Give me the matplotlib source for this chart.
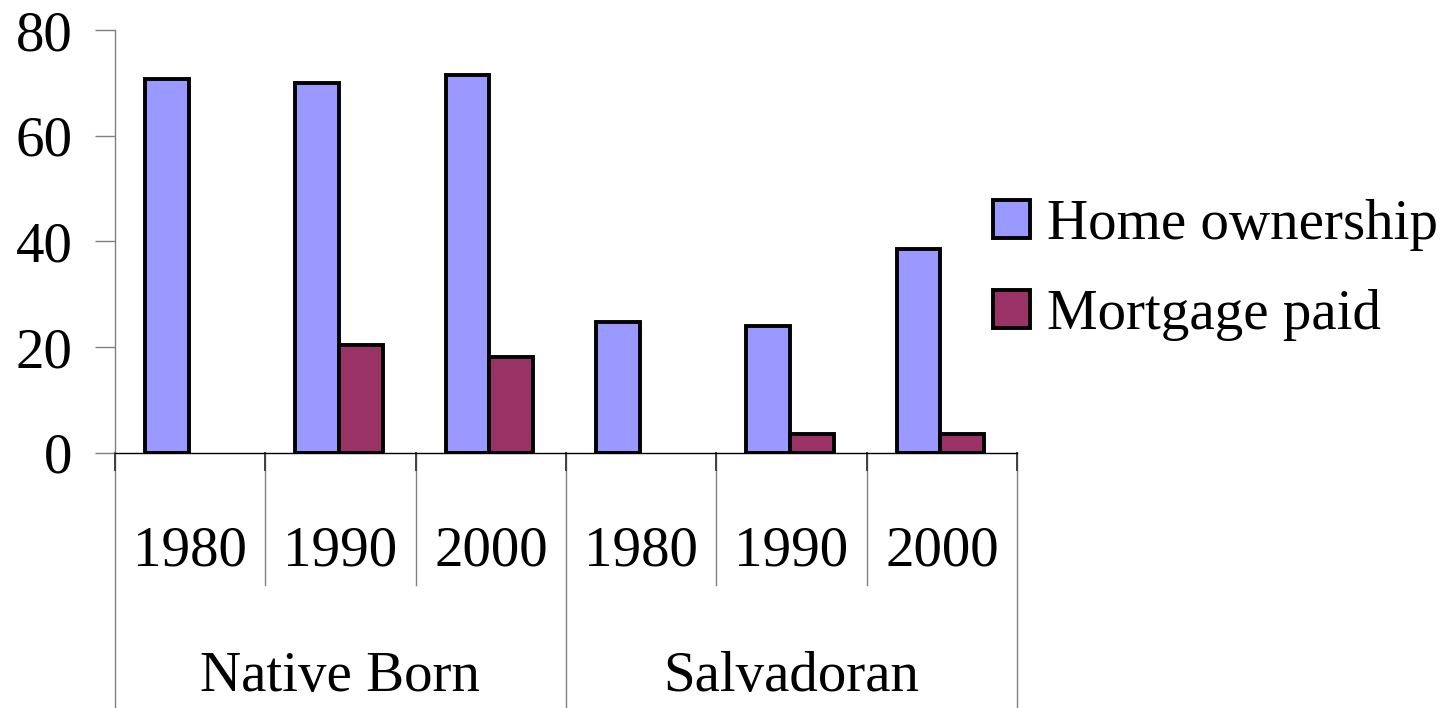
import matplotlib.pyplot as plt
import numpy as np

plt.rcParams['font.family'] = ['Liberation Serif', 'DejaVu Serif']

groups = ["Native Born", "Salvadoran"]
years = ["1980", "1990", "2000", "1980", "1990", "2000"]
home_ownership = [70.7, 70.0, 71.5, 24.8, 24.0, 38.6]
mortgage_paid = [np.nan, 20.4, 18.1, np.nan, 3.6, 3.6]

fig = plt.figure(figsize=(14.48, 7.08), dpi=100)
ax = fig.add_axes([0.0794, 0.3602, 0.6230, 0.5974])

x = np.arange(len(years))
w = 0.29
ax.bar(x - w / 2 - 0.01, home_ownership, w, color="#9999FF", edgecolor="black",
       linewidth=2.8, label="Home ownership")
ax.bar(x + w / 2 - 0.01, mortgage_paid, w, color="#993366", edgecolor="black",
       linewidth=2.8, label="Mortgage paid")

ax.set_xlim(-0.5, len(years) - 0.5)
ax.set_ylim(0, 80)
ax.set_yticks([0, 20, 40, 60, 80])
ax.tick_params(axis='y', length=14.4, width=1.0, color="#808080", labelsize=41, pad=16)
ax.set_xticks([])
for s in ["top", "right"]:
    ax.spines[s].set_visible(False)
ax.spines["left"].set_color("#808080")
ax.spines["left"].set_linewidth(1.0)
ax.spines["bottom"].set_linewidth(1.0)

# category separators below the axis
trans = ax.get_xaxis_transform()
for i in range(len(years) + 1):
    xs = i - 0.5
    outer = i % 3 == 0
    y1 = -0.62 if outer else -0.312
    ax.plot([xs, xs], [0, y1], transform=trans, color="#808080", lw=1.0, clip_on=False)
    ax.plot([xs, xs], [0, -0.04], transform=trans, color="#404040", lw=1.4, clip_on=False)

for i, yr in enumerate(years):
    ax.text(i, -0.232, yr, transform=trans, ha="center", va="center", fontsize=41)
for g, name in enumerate(groups):
    ax.text(g * 3 + 1, -0.53, name, transform=trans, ha="center", va="center", fontsize=41)

fig.legend(loc="center left", bbox_to_anchor=(0.6858, 0.619), frameon=False,
           fontsize=41, handlelength=0.65, handleheight=0.65, handletextpad=0.3,
           labelspacing=0.66, borderpad=0, borderaxespad=0)

fig.savefig("out.png", dpi=100)
